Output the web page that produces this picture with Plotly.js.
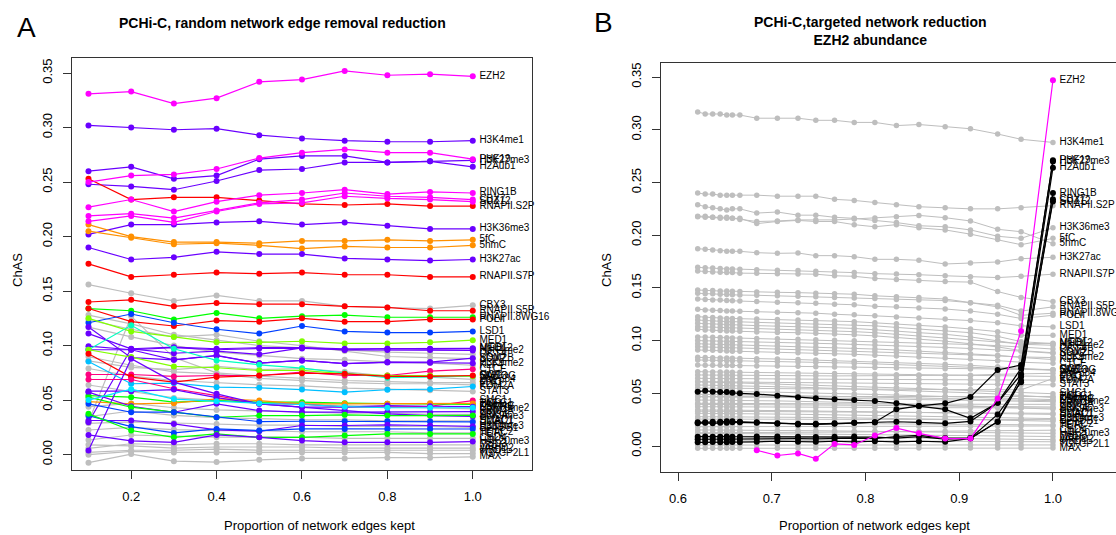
<!DOCTYPE html>
<html>
<head>
<meta charset="utf-8">
<script src="https://cdn.plot.ly/plotly-3.0.1.min.js"></script>
<style>
html,body{margin:0;padding:0;overflow:hidden;background:#fff;}
#chart{width:1140px;height:535px;}
</style>
</head>
<body>
<div id="chart"></div>
<script>
// ---------- data ----------
const xLeft = [0.1,0.2,0.3,0.4,0.5,0.6,0.7,0.8,0.9,1.0];
const xRight = [0.621,0.629,0.637,0.645,0.652,0.658,0.666,0.684,0.706,0.728,0.747,0.767,0.788,0.810,0.833,0.857,0.885,0.912,0.941,0.966,1.0];

const leftXTicks = [0.2,0.4,0.6,0.8,1.0];
const leftXTickText = ["0.2","0.4","0.6","0.8","1.0"];
const rightXTicks = [0.6,0.7,0.8,0.9,1.0];
const rightXTickText = ["0.6","0.7","0.8","0.9","1.0"];
const yTicks = [0,0.05,0.10,0.15,0.20,0.25,0.30,0.35];
const yTickText = ["0.00","0.05","0.10","0.15","0.20","0.25","0.30","0.35"];

const featureNames = [
"EZH2","H3K4me1","PHF19","H3K27me3","H2Aub1","RING1B","CBX7","SUZ12","RNAPII.S2P","H3K36me3",
"5fC","5hmC","H3K27ac","RNAPII.S7P","CBX3","RNAPII.S5P","RNAPII.8WG16","POLII","LSD1","MED1",
"MED12","H3K4me2","NIPBL","KDM2B","H3K9me2","CTCF","NANOG","SMC3","OGT","ZNF384",
"KDM2A","SMC1","TAF1","HCFC1","H3K9me3","KDM4A","SIN3A","HDAC1","H3K4me3","SETDB1",
"TET1","H4K20me3","KDM4C","ESRRB","OCT4","SOX2","KLF4","MYC","E2F1","STAT3",
"H3K79me2","ZFX","SMAD1","P300","HDAC2","CHD4","MBD3","JARID2","MBD1","MAX","TCFCP2L1"
];

// colour group of each feature in panel A, and in panel B
const leftGroup = [
"M","P","M","P","P","M","M","M","R","P",
"O","O","P","R","GR","R","G","R","B","CH",
"P","P","P","P","P","PK","AQ","CH","R","GR",
"SKY","PK","G","O","P","P","G","B","P","B",
"G","P","P","CY","GR","GR","GR","GR","GR","GR",
"GR","GR","GR","GR","GR","GR","GR","GR","GR","GR","GR"
];
const rightGroup = [
"M","GR","K","K","K","K","K","K","GR","GR",
"GR","GR","GR","GR","GR","GR","GR","GR","GR","GR",
"GR","GR","GR","GR","GR","GR","GR","GR","GR","GR",
"GR","GR","GR","GR","GR","GR","GR","GR","GR","GR",
"GR","GR","GR","GR","GR","GR","GR","GR","GR","GR",
"GR","GR","GR","GR","GR","GR","GR","GR","GR","GR","GR"
];

// ChAS values, panel A (random edge removal), one row per feature
const leftValues = [
[0.331,0.333,0.322,0.327,0.342,0.344,0.352,0.348,0.349,0.347],
[0.302,0.300,0.298,0.299,0.293,0.290,0.288,0.287,0.287,0.288],
[0.250,0.256,0.257,0.262,0.272,0.277,0.280,0.277,0.277,0.271],
[0.260,0.264,0.253,0.256,0.271,0.274,0.274,0.268,0.269,0.270],
[0.248,0.246,0.243,0.251,0.261,0.262,0.268,0.268,0.269,0.264],
[0.227,0.234,0.223,0.232,0.238,0.240,0.243,0.239,0.241,0.240],
[0.219,0.221,0.217,0.224,0.231,0.234,0.240,0.237,0.236,0.234],
[0.214,0.219,0.213,0.223,0.230,0.231,0.237,0.235,0.234,0.232],
[0.253,0.234,0.236,0.236,0.233,0.230,0.229,0.230,0.228,0.228],
[0.202,0.211,0.211,0.213,0.214,0.211,0.213,0.210,0.207,0.207],
[0.211,0.200,0.195,0.195,0.194,0.196,0.196,0.197,0.196,0.197],
[0.205,0.199,0.193,0.194,0.192,0.189,0.191,0.190,0.190,0.192],
[0.190,0.179,0.181,0.186,0.184,0.184,0.180,0.179,0.178,0.179],
[0.175,0.163,0.165,0.167,0.166,0.167,0.165,0.165,0.163,0.163],
[0.156,0.148,0.141,0.146,0.141,0.141,0.136,0.135,0.134,0.137],
[0.140,0.142,0.136,0.139,0.138,0.138,0.136,0.135,0.132,0.132],
[0.134,0.132,0.124,0.130,0.125,0.127,0.128,0.126,0.126,0.126],
[0.134,0.122,0.118,0.123,0.122,0.125,0.122,0.122,0.124,0.124],
[0.121,0.129,0.121,0.115,0.111,0.118,0.113,0.112,0.112,0.113],
[0.125,0.113,0.108,0.103,0.103,0.104,0.102,0.102,0.103,0.105],
[0.0995,0.0962,0.0981,0.0962,0.0974,0.0974,0.0962,0.0971,0.0968,0.0971],
[0.111,0.097,0.093,0.095,0.092,0.098,0.096,0.096,0.096,0.0956],
[0.0297,0.0971,0.0986,0.0971,0.0981,0.0981,0.0971,0.0971,0.0971,0.0975],
[0.0962,0.0962,0.087,0.091,0.0839,0.0864,0.0834,0.0849,0.0849,0.0885],
[0.117,0.0889,0.087,0.0907,0.0839,0.0864,0.0834,0.0846,0.0843,0.0839],
[0.0735,0.0735,0.0717,0.0726,0.0726,0.0756,0.0726,0.0726,0.0766,0.0784],
[0.0962,0.1186,0.0971,0.0864,0.0824,0.0793,0.0747,0.0705,0.0714,0.072],
[0.0962,0.0895,0.0809,0.0797,0.0772,0.0772,0.0741,0.0726,0.0726,0.072],
[0.0925,0.0711,0.0665,0.0711,0.0726,0.0747,0.0741,0.0717,0.0717,0.0726],
[0.086,0.080,0.078,0.081,0.078,0.079,0.076,0.072,0.071,0.069],
[0.0855,0.065,0.0655,0.0619,0.0613,0.0597,0.0573,0.0595,0.060,0.0625],
[0.0689,0.0689,0.0604,0.0542,0.0466,0.0466,0.0435,0.0435,0.0444,0.0496],
[0.0542,0.0527,0.0481,0.0496,0.0481,0.0481,0.0472,0.0466,0.046,0.046],
[0.0487,0.0466,0.0472,0.0512,0.0496,0.0466,0.0466,0.0466,0.0472,0.047],
[0.0037,0.088,0.0665,0.0558,0.0466,0.0435,0.0404,0.0374,0.0358,0.035],
[0.0573,0.0444,0.0389,0.0466,0.0404,0.0389,0.0389,0.0389,0.0389,0.0395],
[0.0527,0.0435,0.0389,0.0343,0.0358,0.0358,0.0365,0.0358,0.0358,0.036],
[0.0466,0.0389,0.0389,0.0343,0.0303,0.0306,0.0306,0.0306,0.0303,0.030],
[0.0313,0.0313,0.0282,0.0227,0.0214,0.0267,0.0267,0.0273,0.0267,0.026],
[0.0358,0.0257,0.0199,0.0236,0.0221,0.0236,0.0236,0.0236,0.0236,0.0235],
[0.0374,0.0221,0.0159,0.019,0.0159,0.0159,0.0175,0.019,0.019,0.019],
[0.0181,0.0126,0.0113,0.0181,0.0159,0.0129,0.0113,0.0113,0.0113,0.012],
[0.0582,0.0582,0.0597,0.0523,0.0466,0.0435,0.0435,0.045,0.0444,0.044],
[0.050,0.060,0.051,0.049,0.047,0.046,0.044,0.043,0.043,0.043],
[0.128,0.120,0.110,0.105,0.100,0.098,0.096,0.094,0.093,0.092],
[0.1235,0.115,0.108,0.110,0.104,0.100,0.095,0.090,0.089,0.088],
[0.117,0.108,0.100,0.094,0.091,0.088,0.087,0.085,0.084,0.082],
[0.030,0.127,0.089,0.075,0.072,0.070,0.068,0.067,0.066,0.066],
[0.0898,0.082,0.076,0.074,0.070,0.068,0.066,0.065,0.065,0.064],
[0.079,0.072,0.068,0.066,0.064,0.063,0.061,0.060,0.059,0.058],
[0.0639,0.058,0.052,0.050,0.048,0.046,0.045,0.044,0.043,0.042],
[0.044,0.047,0.043,0.041,0.040,0.039,0.038,0.038,0.037,0.037],
[0.0348,0.040,0.036,0.034,0.033,0.032,0.032,0.031,0.031,0.031],
[0.0287,0.030,0.029,0.028,0.027,0.027,0.026,0.026,0.026,0.025],
[0.0226,0.025,0.023,0.022,0.022,0.021,0.021,0.021,0.020,0.020],
[0.0134,0.018,0.017,0.016,0.016,0.016,0.015,0.015,0.015,0.015],
[0.0058,0.010,0.009,0.010,0.010,0.009,0.009,0.009,0.009,0.009],
[0.009,0.008,0.006,0.007,0.007,0.007,0.006,0.006,0.006,0.006],
[0.002,0.004,0.004,0.005,0.004,0.004,0.004,0.004,0.004,0.004],
[-0.0074,0.0005,-0.006,-0.0068,-0.0048,-0.0035,-0.0035,-0.0028,-0.0028,-0.002],
[0.0,0.003,0.002,0.002,0.002,0.002,0.002,0.002,0.001,0.001]
];

// ChAS values, panel B (targeted reduction by EZH2 abundance), one row per feature
const rightValues = [
[null,null,null,null,null,null,null,-0.004,-0.009,-0.007,-0.012,0.002,0.001,0.010,0.017,0.012,0.007,0.007,0.045,0.109,0.347],
[0.317,0.315,0.315,0.315,0.314,0.314,0.314,0.311,0.311,0.311,0.309,0.309,0.307,0.307,0.304,0.305,0.303,0.301,0.296,0.291,0.288],
[0.0515,0.0525,0.0515,0.0512,0.0512,0.0506,0.050,0.0493,0.0477,0.0462,0.0452,0.0443,0.0436,0.0427,0.0405,0.038,0.0348,0.0263,0.0411,0.0737,0.271],
[0.0215,0.022,0.0215,0.022,0.022,0.0225,0.0225,0.022,0.021,0.0205,0.0205,0.021,0.022,0.0225,0.0348,0.038,0.0405,0.0465,0.0721,0.0769,0.270],
[0.0225,0.0225,0.023,0.023,0.0235,0.0235,0.023,0.0225,0.0215,0.021,0.021,0.0215,0.022,0.0225,0.023,0.0225,0.0215,0.0233,0.0411,0.068,0.264],
[0.0088,0.009,0.0088,0.0088,0.009,0.0088,0.0088,0.009,0.009,0.0088,0.0085,0.0088,0.009,0.0085,0.0075,0.0088,0.0065,0.0073,0.0231,0.0658,0.240],
[0.0064,0.0065,0.0064,0.0064,0.0065,0.0064,0.0065,0.0068,0.007,0.007,0.0068,0.007,0.0075,0.007,0.009,0.010,0.0075,0.0075,0.030,0.0604,0.234],
[0.0035,0.0035,0.0038,0.0035,0.0035,0.0038,0.0035,0.004,0.0045,0.004,0.004,0.0045,0.004,0.0045,0.004,0.0045,0.004,0.0073,0.0231,0.062,0.232],
[0.240,0.239,0.239,0.238,0.238,0.238,0.238,0.238,0.237,0.237,0.237,0.234,0.233,0.231,0.229,0.227,0.226,0.225,0.225,0.226,0.228],
[0.229,0.227,0.226,0.225,0.224,0.225,0.225,0.221,0.222,0.219,0.219,0.217,0.216,0.214,0.212,0.209,0.208,0.205,0.199,0.197,0.207],
[0.218,0.218,0.217,0.217,0.217,0.216,0.216,0.211,0.213,0.214,0.213,0.213,0.210,0.208,0.210,0.207,0.205,0.201,0.196,0.191,0.197],
[0.2175,0.217,0.217,0.216,0.216,0.216,0.215,0.213,0.2135,0.2145,0.2145,0.2145,0.2154,0.2163,0.2176,0.2188,0.2166,0.2135,0.2056,0.2033,0.192],
[0.1872,0.1866,0.186,0.1853,0.1847,0.1847,0.1847,0.1834,0.1828,0.1831,0.1806,0.1806,0.1796,0.1771,0.1771,0.1762,0.1727,0.1736,0.1746,0.1777,0.179],
[0.1695,0.169,0.1688,0.1685,0.168,0.168,0.1678,0.1672,0.1668,0.1665,0.1658,0.1652,0.1645,0.1635,0.1632,0.1625,0.1615,0.1605,0.1598,0.161,0.163],
[0.166,0.1655,0.165,0.1648,0.1645,0.1645,0.164,0.1638,0.1635,0.1632,0.163,0.1615,0.161,0.159,0.158,0.157,0.156,0.1555,0.1465,0.141,0.137],
[0.148,0.1475,0.1475,0.147,0.147,0.1468,0.1465,0.146,0.1458,0.1455,0.145,0.1445,0.144,0.1425,0.1415,0.141,0.1395,0.136,0.1335,0.128,0.132],
[0.1449,0.1445,0.1445,0.144,0.1438,0.1435,0.1432,0.143,0.1425,0.142,0.1415,0.141,0.1405,0.140,0.139,0.1385,0.138,0.136,0.132,0.124,0.126],
[0.1395,0.139,0.1385,0.1385,0.138,0.1378,0.1375,0.137,0.1365,0.136,0.1355,0.1345,0.134,0.1325,0.132,0.131,0.130,0.128,0.125,0.121,0.124],
[0.1297,0.129,0.1288,0.1285,0.128,0.128,0.1278,0.1275,0.127,0.1265,0.126,0.125,0.1245,0.1235,0.1225,0.1215,0.1205,0.119,0.117,0.114,0.113],
[0.1227,0.122,0.1218,0.1215,0.121,0.121,0.1208,0.1205,0.12,0.1195,0.119,0.1185,0.118,0.117,0.116,0.1145,0.113,0.111,0.1085,0.105,0.105],
[0.1195,0.119,0.1188,0.1185,0.118,0.118,0.1178,0.1172,0.1168,0.1165,0.116,0.1155,0.115,0.114,0.1125,0.111,0.1095,0.1075,0.104,0.099,0.0971],
[0.1164,0.116,0.1158,0.1155,0.115,0.115,0.1148,0.1142,0.1138,0.1135,0.113,0.1122,0.1115,0.1105,0.109,0.1075,0.106,0.1035,0.100,0.0965,0.0956],
[0.1132,0.113,0.1128,0.1125,0.112,0.112,0.1118,0.1112,0.1108,0.1105,0.110,0.1092,0.1085,0.1075,0.106,0.1045,0.103,0.101,0.099,0.097,0.0975],
[0.1107,0.110,0.1098,0.1095,0.109,0.109,0.1088,0.1082,0.1078,0.1075,0.107,0.1062,0.1055,0.1045,0.103,0.1015,0.0995,0.097,0.094,0.0905,0.0885],
[0.0942,0.094,0.0938,0.0935,0.0932,0.093,0.0928,0.0925,0.092,0.0915,0.091,0.0905,0.090,0.0895,0.089,0.0882,0.0875,0.0865,0.0855,0.0845,0.0839],
[0.0911,0.091,0.0908,0.0905,0.0902,0.090,0.0898,0.0895,0.089,0.0885,0.088,0.0875,0.087,0.0862,0.0855,0.0845,0.0835,0.0825,0.081,0.0795,0.0784],
[0.0841,0.084,0.0838,0.0836,0.0835,0.0833,0.083,0.0828,0.0825,0.082,0.0815,0.081,0.0805,0.080,0.0792,0.0785,0.0775,0.0765,0.0752,0.0738,0.072],
[0.0816,0.0815,0.0813,0.0812,0.081,0.0808,0.0806,0.0803,0.080,0.0797,0.0793,0.079,0.0786,0.078,0.0773,0.0765,0.0757,0.0748,0.0738,0.0728,0.072],
[0.0768,0.0767,0.0766,0.0765,0.0764,0.0763,0.0762,0.076,0.0758,0.0756,0.0753,0.075,0.0747,0.0744,0.074,0.0737,0.0734,0.0731,0.0729,0.0727,0.0726],
[0.0674,0.0673,0.0672,0.0672,0.0671,0.067,0.067,0.0669,0.0668,0.0667,0.0666,0.0665,0.0665,0.0665,0.0666,0.0668,0.067,0.0672,0.068,0.0685,0.069],
[0.0642,0.0641,0.064,0.064,0.0639,0.0638,0.0638,0.0637,0.0636,0.0635,0.0634,0.0633,0.0632,0.0631,0.063,0.063,0.0629,0.0628,0.0627,0.0626,0.0625],
[0.061,0.0608,0.0606,0.0605,0.0603,0.0601,0.060,0.0595,0.059,0.0585,0.058,0.0575,0.057,0.0563,0.0555,0.0545,0.0535,0.0525,0.0515,0.0505,0.0496],
[0.0579,0.0578,0.0576,0.0575,0.0574,0.0572,0.057,0.0567,0.0563,0.0558,0.0553,0.0548,0.0543,0.0537,0.053,0.0523,0.0515,0.0505,0.0493,0.0478,0.046],
[0.0468,0.0468,0.0467,0.0467,0.0467,0.0466,0.0466,0.0466,0.0466,0.0467,0.0467,0.0467,0.0468,0.0468,0.0468,0.0469,0.0469,0.0469,0.047,0.047,0.047],
[0.0436,0.0436,0.0435,0.0434,0.0433,0.0432,0.0431,0.043,0.0428,0.0425,0.0422,0.0418,0.0413,0.0408,0.0402,0.0395,0.0388,0.038,0.0371,0.0361,0.035],
[0.0405,0.0405,0.0404,0.0404,0.0403,0.0403,0.0402,0.0402,0.0401,0.040,0.040,0.0399,0.0399,0.0398,0.0398,0.0397,0.0397,0.0396,0.0396,0.0395,0.0395],
[0.0373,0.0373,0.0372,0.0372,0.0371,0.0371,0.037,0.037,0.0369,0.0368,0.0368,0.0367,0.0366,0.0366,0.0365,0.0364,0.0363,0.0362,0.0362,0.0361,0.036],
[0.0342,0.0342,0.0341,0.034,0.034,0.0339,0.0338,0.0337,0.0336,0.0334,0.0332,0.033,0.0328,0.0325,0.0322,0.0319,0.0315,0.0312,0.0308,0.0304,0.030],
[0.031,0.031,0.0309,0.0309,0.0308,0.0307,0.0306,0.0305,0.0303,0.0301,0.0299,0.0296,0.0293,0.029,0.0286,0.0282,0.0278,0.0273,0.0268,0.0264,0.026],
[0.0278,0.0278,0.0277,0.0277,0.0276,0.0276,0.0275,0.0274,0.0273,0.0272,0.0271,0.0269,0.0267,0.0265,0.0262,0.0259,0.0255,0.0251,0.0246,0.0241,0.0235],
[0.0183,0.0183,0.0183,0.0183,0.0184,0.0184,0.0184,0.0184,0.0185,0.0185,0.0185,0.0186,0.0186,0.0186,0.0187,0.0187,0.0188,0.0188,0.0189,0.0189,0.019],
[0.0152,0.0152,0.0151,0.0151,0.015,0.015,0.0149,0.0148,0.0147,0.0146,0.0145,0.0143,0.0141,0.0139,0.0137,0.0134,0.0131,0.0128,0.0125,0.0122,0.012],
[0.052,0.052,0.0519,0.0518,0.0517,0.0516,0.0515,0.0513,0.051,0.0507,0.0503,0.0499,0.0494,0.0489,0.0483,0.0476,0.0469,0.0462,0.0455,0.0448,0.044],
[0.049,0.049,0.0489,0.0488,0.0487,0.0486,0.0485,0.0483,0.0481,0.0478,0.0475,0.0472,0.0468,0.0464,0.046,0.0455,0.045,0.0445,0.044,0.0435,0.043],
[0.1035,0.1033,0.1031,0.1029,0.1027,0.1025,0.1023,0.102,0.1017,0.1013,0.1009,0.1004,0.0999,0.0993,0.0987,0.098,0.0972,0.0963,0.0952,0.094,0.092],
[0.100,0.0998,0.0996,0.0994,0.0992,0.099,0.0988,0.0985,0.0982,0.0978,0.0974,0.097,0.0965,0.0959,0.0952,0.0944,0.0935,0.0925,0.0913,0.090,0.088],
[0.097,0.0968,0.0966,0.0964,0.0962,0.096,0.0957,0.0954,0.095,0.0945,0.094,0.0934,0.0927,0.092,0.0911,0.0901,0.089,0.0875,0.086,0.084,0.082],
[0.0705,0.0704,0.0703,0.0702,0.0701,0.070,0.0699,0.0697,0.0695,0.0693,0.069,0.0687,0.0684,0.068,0.0677,0.0673,0.0669,0.0666,0.0663,0.0661,0.066],
[0.055,0.055,0.0549,0.0548,0.0548,0.0547,0.0546,0.0545,0.0544,0.0543,0.0542,0.0541,0.054,0.0539,0.0538,0.0537,0.0536,0.0535,0.0534,0.0533,0.064],
[0.061,0.061,0.0609,0.0608,0.0607,0.0606,0.0605,0.0604,0.0603,0.0602,0.0601,0.060,0.0599,0.0597,0.0595,0.0593,0.0591,0.0588,0.0585,0.0582,0.058],
[0.0468,0.0468,0.0467,0.0467,0.0466,0.0465,0.0464,0.0463,0.0461,0.0459,0.0456,0.0453,0.045,0.0446,0.0442,0.0438,0.0434,0.043,0.0426,0.0423,0.042],
[0.0395,0.0395,0.0394,0.0394,0.0393,0.0393,0.0392,0.0392,0.0391,0.039,0.0389,0.0388,0.0387,0.0386,0.0384,0.0383,0.0381,0.0379,0.0376,0.0373,0.037],
[0.033,0.033,0.0329,0.0329,0.0328,0.0328,0.0327,0.0327,0.0326,0.0325,0.0324,0.0323,0.0322,0.0321,0.032,0.0319,0.0318,0.0316,0.0314,0.0312,0.031],
[0.0255,0.0255,0.0255,0.0254,0.0254,0.0254,0.0253,0.0253,0.0253,0.0252,0.0252,0.0252,0.0251,0.0251,0.0251,0.025,0.025,0.025,0.025,0.025,0.025],
[0.022,0.022,0.0219,0.0219,0.0218,0.0218,0.0217,0.0217,0.0216,0.0215,0.0214,0.0213,0.0212,0.0211,0.021,0.0209,0.0208,0.0206,0.0204,0.0202,0.020],
[0.0125,0.0125,0.0126,0.0126,0.0127,0.0127,0.0128,0.0128,0.0129,0.013,0.0131,0.0132,0.0133,0.0134,0.0136,0.0138,0.014,0.0142,0.0145,0.0148,0.015],
[0.012,0.012,0.0119,0.0119,0.0118,0.0118,0.0117,0.0116,0.0115,0.0114,0.0113,0.0111,0.0109,0.0107,0.0105,0.0103,0.0101,0.0098,0.0095,0.0092,0.009],
[0.0095,0.0095,0.0094,0.0094,0.0093,0.0093,0.0092,0.0091,0.009,0.0089,0.0087,0.0085,0.0083,0.0081,0.0078,0.0075,0.0072,0.0069,0.0066,0.0063,0.006],
[0.0057,0.0057,0.0057,0.0056,0.0056,0.0056,0.0055,0.0055,0.0054,0.0053,0.0052,0.0051,0.005,0.0049,0.0048,0.0047,0.0046,0.0045,0.0043,0.0042,0.004],
[-0.0022,-0.0022,-0.0022,-0.0022,-0.0022,-0.0022,-0.0022,-0.0022,-0.0021,-0.0021,-0.0021,-0.0021,-0.0021,-0.0021,-0.0021,-0.002,-0.002,-0.002,-0.002,-0.002,-0.002],
[0.0009,0.0009,0.0009,0.0009,0.0009,0.0009,0.0009,0.0009,0.0009,0.0009,0.0009,0.001,0.001,0.001,0.001,0.001,0.001,0.001,0.001,0.001,0.001]
];

// ---------- styles ----------
const palette = {
  M:"#FF00FF", P:"#6A00FF", R:"#FF0000", O:"#FF9000", G:"#00FF00", CH:"#80FF00",
  B:"#0040FF", SKY:"#00BFFF", AQ:"#00FFC0", CY:"#00E5FF", PK:"#FF0080",
  GR:"#BEBEBE", K:"#000000"
};
const FONT = "Liberation Sans, Arial, Helvetica, sans-serif";

function order(groups){
  const idx = groups.map((g,i)=>i);
  return idx.filter(i=>groups[i]==="GR").concat(idx.filter(i=>groups[i]!=="GR" && groups[i]!=="M"), idx.filter(i=>groups[i]==="M"));
}

const traces = [];
order(leftGroup).forEach(i=>{
  const c = palette[leftGroup[i]];
  traces.push({x:xLeft, y:leftValues[i], xaxis:"x", yaxis:"y", type:"scatter",
    mode:"lines+markers", line:{color:c, width:1.2}, marker:{color:c, size:6},
    hoverinfo:"skip", showlegend:false, cliponaxis:false});
});
traces.push({
  x: featureNames.map(()=>xLeft[xLeft.length-1]),
  y: leftValues.map(v=>v[v.length-1]),
  text: featureNames, xaxis:"x", yaxis:"y", type:"scatter", mode:"markers+text",
  marker:{size:9, opacity:0}, textposition:"middle right",
  textfont:{family:FONT, size:10, color:"#000"}, hoverinfo:"skip", showlegend:false, cliponaxis:false
});
order(rightGroup).forEach(i=>{
  const c = palette[rightGroup[i]];
  const gray = rightGroup[i]==="GR";
  traces.push({x:xRight, y:rightValues[i], xaxis:"x2", yaxis:"y2", type:"scatter",
    mode:"lines+markers", line:{color:c, width: gray?1:1.2}, marker:{color:c, size: gray?5.5:6},
    hoverinfo:"skip", showlegend:false, cliponaxis:false, connectgaps:false});
});
traces.push({
  x: featureNames.map(()=>xRight[xRight.length-1]),
  y: rightValues.map(v=>v[v.length-1]),
  text: featureNames, xaxis:"x2", yaxis:"y2", type:"scatter", mode:"markers+text",
  marker:{size:9, opacity:0}, textposition:"middle right",
  textfont:{family:FONT, size:10, color:"#000"}, hoverinfo:"skip", showlegend:false, cliponaxis:false
});

const W = 1140, H = 535;
const axisCommon = {
  showgrid:false, zeroline:false, showline:true, mirror:true, linecolor:"#333", linewidth:1,
  ticks:"outside", ticklen:8, tickcolor:"#333", tickwidth:1,
  tickfont:{family:FONT, size:13, color:"#000"}
};

const layout = {
  width:W, height:H, margin:{l:0,r:0,t:0,b:0},
  paper_bgcolor:"#fff", plot_bgcolor:"#fff",
  font:{family:FONT, color:"#000"},
  xaxis: Object.assign({}, axisCommon, {domain:[72/W, 532/W], range:[0.0614,1.1387], anchor:"y",
    tickmode:"array", tickvals:leftXTicks, ticktext:leftXTickText, ticklabelstandoff:6}),
  yaxis: Object.assign({}, axisCommon, {domain:[(H-470)/H, (H-57.7)/H], range:[-0.0141,0.3641], anchor:"x",
    tickmode:"array", tickvals:yTicks, ticktext:yTickText, tickangle:-90, ticklabelstandoff:6}),
  xaxis2: Object.assign({}, axisCommon, {domain:[661/W, 1130/W], range:[0.58185,1.0822], anchor:"y2",
    tickmode:"array", tickvals:rightXTicks, ticktext:rightXTickText, ticklabelstandoff:6}),
  yaxis2: Object.assign({}, axisCommon, {domain:[(H-472)/H, (H-63)/H], range:[-0.02467,0.36338], anchor:"x2",
    tickmode:"array", tickvals:yTicks, ticktext:yTickText, tickangle:-90, ticklabelstandoff:6}),
  annotations:[
    {text:"A", x:26/W, y:1-27/H, xref:"paper", yref:"paper", showarrow:false, xanchor:"center", yanchor:"middle", font:{family:FONT, size:28}},
    {text:"B", x:603/W, y:1-22/H, xref:"paper", yref:"paper", showarrow:false, xanchor:"center", yanchor:"middle", font:{family:FONT, size:28}},
    {text:"<b>PCHi-C, random network edge removal reduction</b>", x:282/W, y:1-23/H, xref:"paper", yref:"paper", showarrow:false, xanchor:"center", yanchor:"middle", font:{family:FONT, size:14}},
    {text:"<b>PCHi-C,targeted network reduction<br>EZH2 abundance</b>", x:870/W, y:1-30.5/H, xref:"paper", yref:"paper", showarrow:false, xanchor:"center", yanchor:"middle", font:{family:FONT, size:14}},
    {text:"ChAS", x:18/W, y:1-270/H, xref:"paper", yref:"paper", showarrow:false, textangle:-90, xanchor:"center", yanchor:"middle", font:{family:FONT, size:13}},
    {text:"ChAS", x:607/W, y:1-270/H, xref:"paper", yref:"paper", showarrow:false, textangle:-90, xanchor:"center", yanchor:"middle", font:{family:FONT, size:13}},
    {text:"Proportion of network edges kept", x:319/W, y:1-525/H, xref:"paper", yref:"paper", showarrow:false, xanchor:"center", yanchor:"middle", font:{family:FONT, size:13}},
    {text:"Proportion of network edges kept", x:874/W, y:1-525/H, xref:"paper", yref:"paper", showarrow:false, xanchor:"center", yanchor:"middle", font:{family:FONT, size:13}}
  ]
};

Plotly.newPlot("chart", traces, layout, {staticPlot:true, displayModeBar:false});
</script>
</body>
</html>
